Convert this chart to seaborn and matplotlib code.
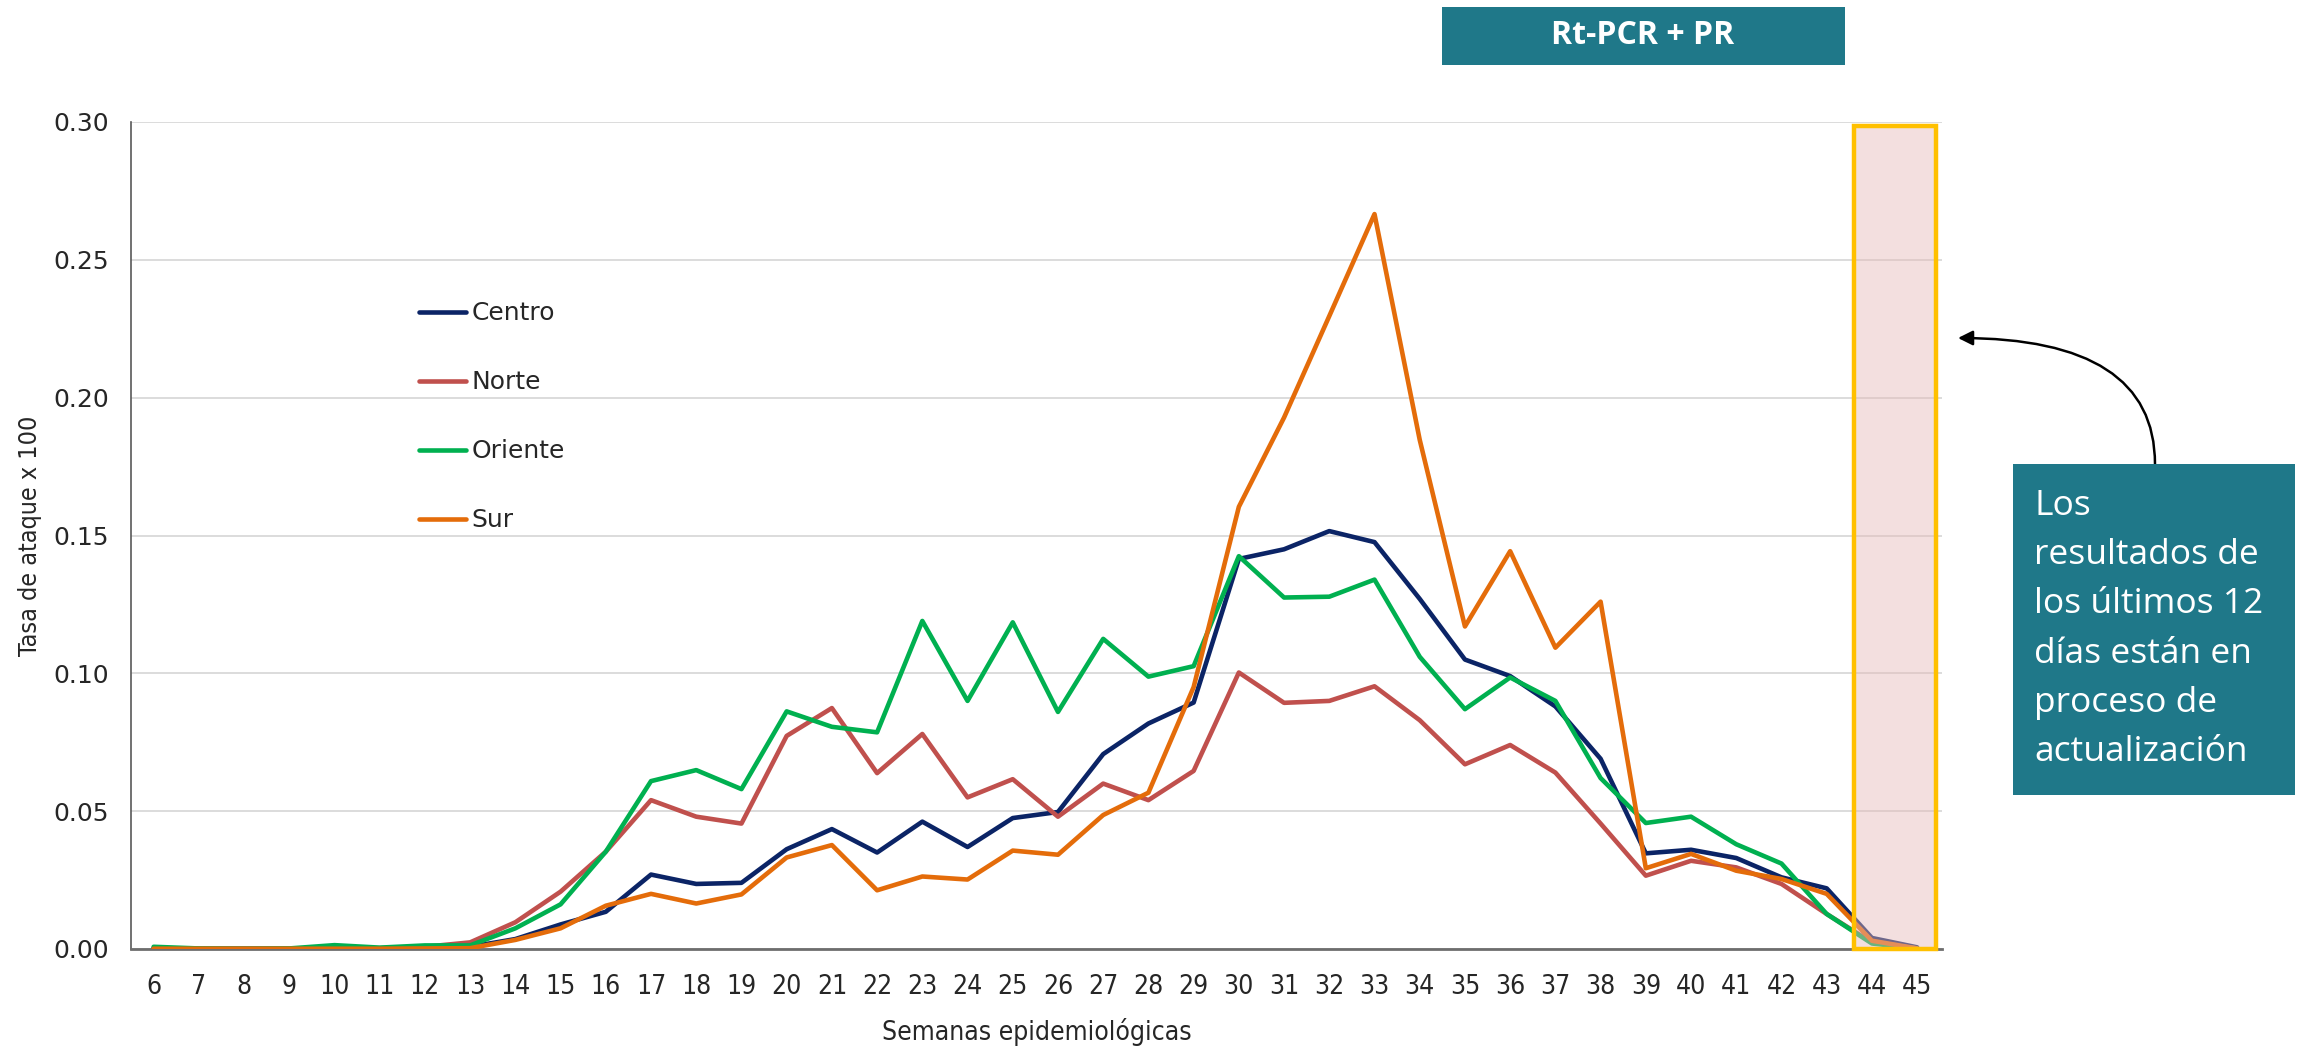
import numpy as np
import pandas as pd
import matplotlib
matplotlib.use('Agg')
import matplotlib.pyplot as plt
import seaborn as sns
from matplotlib.patches import Rectangle

# Data
semanas = list(range(6, 46))
centro = [0.0003, 0.0001, 0.0001, 0.0001, 0.0002, 0.0002, 0.0006, 0.0008, 0.0036, 0.0089,
          0.0135, 0.0270, 0.0236, 0.0240, 0.0362, 0.0435, 0.0350, 0.0462, 0.0370, 0.0475,
          0.0497, 0.0707, 0.0818, 0.0894, 0.1415, 0.1450, 0.1516, 0.1476, 0.1270, 0.1050,
          0.0990, 0.0880, 0.0690, 0.0347, 0.0360, 0.0330, 0.0260, 0.0220, 0.0040, 0.0006]
norte = [0.0002, 0.0001, 0.0001, 0.0001, 0.0003, 0.0003, 0.0008, 0.0024, 0.0097, 0.0208,
         0.0353, 0.0540, 0.0480, 0.0455, 0.0773, 0.0874, 0.0638, 0.0780, 0.0550, 0.0616,
         0.0480, 0.0600, 0.0540, 0.0646, 0.1003, 0.0893, 0.0900, 0.0953, 0.0830, 0.0670,
         0.0740, 0.0640, 0.0455, 0.0266, 0.0320, 0.0296, 0.0236, 0.0127, 0.0024, 0.0002]
oriente = [0.0008, 0.0002, 0.0001, 0.0002, 0.0014, 0.0005, 0.0013, 0.0013, 0.0075, 0.0162,
           0.0353, 0.0609, 0.0649, 0.0580, 0.0862, 0.0806, 0.0786, 0.1190, 0.0900, 0.1185,
           0.0860, 0.1125, 0.0988, 0.1026, 0.1425, 0.1275, 0.1278, 0.1340, 0.1060, 0.0870,
           0.0985, 0.0900, 0.0620, 0.0457, 0.0480, 0.0380, 0.0310, 0.0127, 0.0020, 0.0002]
sur = [0.0001, 0.0001, 0.0001, 0.0001, 0.0001, 0.0001, 0.0002, 0.0003, 0.0033, 0.0075,
       0.0157, 0.0200, 0.0165, 0.0198, 0.0332, 0.0377, 0.0213, 0.0263, 0.0252, 0.0357,
       0.0342, 0.0486, 0.0567, 0.0950, 0.1604, 0.1928, 0.2296, 0.2666, 0.1847, 0.1170,
       0.1443, 0.1093, 0.1260, 0.0293, 0.0345, 0.0284, 0.0254, 0.0200, 0.0030, 0.0002]

regiones = ['Centro', 'Norte', 'Oriente', 'Sur']
colores = {'Centro': '#0B2466', 'Norte': '#C0504D', 'Oriente': '#00B050', 'Sur': '#E46C0A'}

df = pd.DataFrame({
    'semana': semanas * 4,
    'tasa': centro + norte + oriente + sur,
    'region': sum([[r] * len(semanas) for r in regiones], []),
})

sns.set_style('white')
plt.rcParams['font.family'] = ['DejaVu Sans']
narrow = ['Liberation Sans Narrow', 'DejaVu Sans']

W, H = 2303, 1049
fig = plt.figure(figsize=(W / 100, H / 100), dpi=100)
ax = fig.add_axes([131 / W, 1 - 949 / H, (1942 - 131) / W, (949 - 122) / H])

sns.lineplot(data=df, x='semana', y='tasa', hue='region', hue_order=regiones,
             palette=colores, linewidth=3.3, ax=ax, zorder=3)

ax.set_xlim(5.5, 45.55)
ax.set_ylim(0, 0.30)
ax.set_xticks(semanas)
ax.set_xticklabels([str(s) for s in semanas], fontsize=19, family=narrow,
                   fontstretch='condensed')
ax.set_yticks(np.arange(0, 0.301, 0.05))
ax.set_yticklabels([f'{v:.2f}' for v in np.arange(0, 0.301, 0.05)], fontsize=18)
ax.tick_params(axis='x', length=0, pad=18)
ax.tick_params(axis='y', length=0, pad=16)
ax.yaxis.grid(True, color='#D9D9D9', linewidth=1.3)
ax.set_axisbelow(True)
for s in ['top', 'right']:
    ax.spines[s].set_visible(False)
ax.spines['left'].set_color('#595959')
ax.spines['left'].set_linewidth(1.2)
ax.spines['bottom'].set_color('#6E6E6E')
ax.spines['bottom'].set_linewidth(2)

ax.set_xlabel('Semanas epidemiológicas', fontsize=19, family=narrow, fontstretch='condensed')
ax.set_ylabel('Tasa de ataque x 100', fontsize=18, family=narrow, fontstretch='condensed')
ax.xaxis.set_label_coords(0.5, -0.083)
ax.yaxis.set_label_coords(-0.049, 0.5)

# legend
handles, labels = ax.get_legend_handles_labels()
ax.legend(handles, labels, loc='upper left', bbox_to_anchor=(0.159, 0.783),
          frameon=False, fontsize=18, handlelength=1.9, handletextpad=0.2,
          labelspacing=1.8, borderpad=0, borderaxespad=0)

# highlighted last weeks
ax.add_patch(Rectangle((43.6, 0), 45.42 - 43.6, 0.2985, facecolor='#E6B9B8', alpha=0.45,
                       edgecolor='none', zorder=4))
ax.add_patch(Rectangle((43.6, 0), 45.42 - 43.6, 0.2985, facecolor='none',
                       edgecolor='#FFC000', linewidth=3.2, zorder=5, clip_on=False))

# top label box
teal = '#1F7889'
fig.patches.append(Rectangle((1442 / W, 1 - 65 / H), 403 / W, 58 / H,
                             transform=fig.transFigure, facecolor=teal, edgecolor='none'))
fig.text(1643 / W, 1 - 36 / H, 'Rt-PCR + PR', color='white', fontsize=23,
         fontweight='bold', family=['Open Sans', 'DejaVu Sans'], ha='center', va='center')

# note box
fig.patches.append(Rectangle((2013 / W, 1 - 795 / H), 282 / W, 331 / H,
                             transform=fig.transFigure, facecolor=teal, edgecolor='none'))
fig.text(2034 / W, 1 - 629 / H,
         'Los\nresultados de\nlos últimos 12\ndías están en\nproceso de\nactualización',
         color='white', fontsize=25.5, family=['Open Sans', 'DejaVu Sans'],
         ha='left', va='center', linespacing=1.58)

ax.annotate('', xy=(1958 / W, 1 - 338 / H), xycoords='figure fraction',
            xytext=(2155 / W, 1 - 464 / H), textcoords='figure fraction',
            arrowprops=dict(arrowstyle='-|>', color='black', lw=1.8, mutation_scale=22,
                            shrinkA=0, shrinkB=0,
                            connectionstyle='angle3,angleA=90,angleB=0'))

fig.savefig('out.png', dpi=100)
